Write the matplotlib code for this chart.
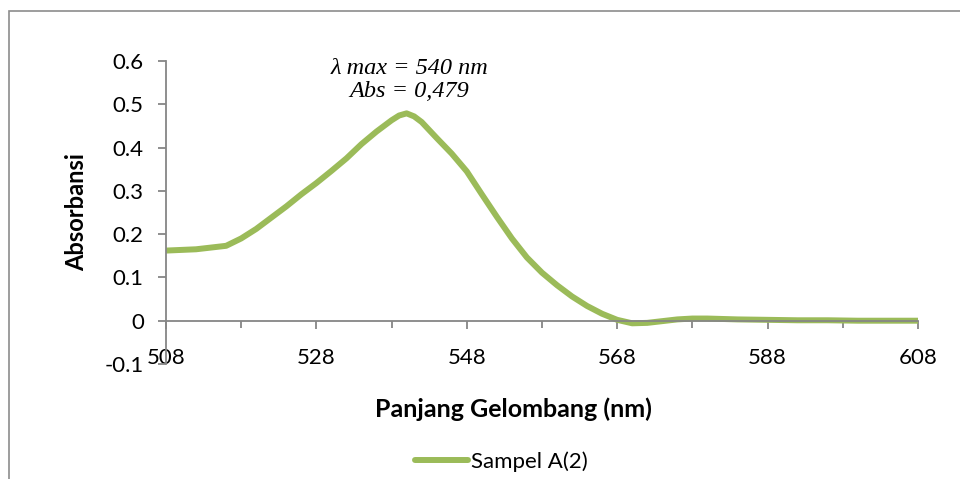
import matplotlib.pyplot as plt
from matplotlib.patches import Rectangle

# wavelength (nm) and absorbance
wavelength = [508, 512, 516, 518, 520, 522, 524, 526, 528, 530, 532, 534, 536, 538,
              539, 540, 541, 542, 544, 546, 548, 550, 552, 554, 556, 558, 560, 562,
              564, 566, 568, 570, 572, 574, 576, 578, 580, 584, 588, 592, 596, 600,
              604, 608]
absorbance = [0.162, 0.165, 0.173, 0.190, 0.212, 0.238, 0.264, 0.292, 0.318, 0.346,
              0.375, 0.408, 0.437, 0.463, 0.474, 0.479, 0.472, 0.459, 0.422, 0.386,
              0.345, 0.292, 0.240, 0.190, 0.146, 0.111, 0.082, 0.056, 0.034, 0.016,
              0.002, -0.006, -0.005, -0.001, 0.003, 0.005, 0.005, 0.003, 0.002, 0.001,
              0.001, 0.0, 0.0, 0.0]
x_ticks = [508, 528, 548, 568, 588, 608]
x_minor = [518, 538, 558, 578, 598]
y_ticks = [-0.1, 0, 0.1, 0.2, 0.3, 0.4, 0.5, 0.6]
y_labels = ['-0.1', '0', '0.1', '0.2', '0.3', '0.4', '0.5', '0.6']

plt.rcParams['font.family'] = ['Lato', 'DejaVu Sans']
axis_grey = '#868686'
green = '#9BBB59'

fig = plt.figure(figsize=(9.6, 4.79), dpi=100)
ax = fig.add_axes([0.1729, 0.2401, 0.7833, 0.6326])

ax.plot(wavelength, absorbance, color=green, lw=4.3, solid_capstyle='round',
        solid_joinstyle='round', label='Sampel A(2)')

ax.set_xlim(508, 608)
ax.set_ylim(-0.1, 0.6)
ax.set_xticks(x_ticks)
ax.set_xticks(x_minor, minor=True)
ax.set_yticks(y_ticks)
ax.set_yticklabels(y_labels)

for s in ['top', 'right']:
    ax.spines[s].set_visible(False)
ax.spines['bottom'].set_position(('data', 0))
for s in ['left', 'bottom']:
    ax.spines[s].set_color(axis_grey)
    ax.spines[s].set_linewidth(1.3)

ax.tick_params(axis='y', direction='out', length=6, width=1.3, color=axis_grey,
               labelsize=16, pad=10)
ax.tick_params(axis='x', which='major', direction='out', length=6, width=1.3,
               color=axis_grey, labelsize=16, pad=14)
ax.tick_params(axis='x', which='minor', direction='out', length=5, width=1.3,
               color=axis_grey)

ax.set_ylabel('Absorbansi', fontsize=17, fontweight='bold', labelpad=12)
ax.set_xlabel('Panjang Gelombang (nm)', fontsize=18, fontweight='bold')
ax.xaxis.set_label_coords(0.462, -0.11)

ax.annotate('λ max = 540 nm\nAbs = 0,479', xy=(540, 0.479),
            xytext=(2, 8), textcoords='offset points', ha='center', va='bottom',
            family=['Liberation Serif', 'DejaVu Serif'], style='italic',
            fontsize=17.5, linespacing=1.15)

fig.legend(loc='center', bbox_to_anchor=(0.522, 0.037), frameon=False, fontsize=16,
           handlelength=2.4, handletextpad=0.1)

fig.patches.append(Rectangle((9 / 960, -0.1), 1.2, 1 - 11 / 479 + 0.1,
                             transform=fig.transFigure, fill=False,
                             edgecolor='#8c8c8c', lw=1.2))

fig.savefig('out.png', dpi=100)
